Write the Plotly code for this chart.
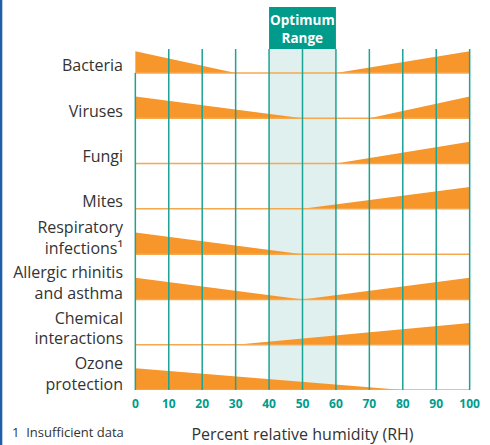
import plotly.graph_objects as go

# ---- data ----
row_labels = ["Bacteria", "Viruses", "Fungi", "Mites",
              "Respiratory<br>infections¹", "Allergic rhinitis<br>and asthma",
              "Chemical<br>interactions", "Ozone<br>protection"]
# breakpoints (RH %) and relative effect level at each breakpoint
bacteria_rh, bacteria_lv = [0, 30, 60, 100], [1, 0, 0, 1]
viruses_rh, viruses_lv = [0, 50, 70, 100], [1, 0, 0, 1]
fungi_rh, fungi_lv = [0, 60, 100], [0, 0, 1]
mites_rh, mites_lv = [0, 50, 100], [0, 0, 1]
resp_rh, resp_lv = [0, 50, 100], [1, 0, 0]
allergic_rh, allergic_lv = [0, 50, 100], [1, 0, 1]
chemical_rh, chemical_lv = [0, 30, 100], [0, 0, 1]
ozone_rh, ozone_lv = [0, 80, 100], [1, 0, 0]
series = [(bacteria_rh, bacteria_lv), (viruses_rh, viruses_lv),
          (fungi_rh, fungi_lv), (mites_rh, mites_lv), (resp_rh, resp_lv),
          (allergic_rh, allergic_lv), (chemical_rh, chemical_lv),
          (ozone_rh, ozone_lv)]
rh_ticks = [0, 10, 20, 30, 40, 50, 60, 70, 80, 90, 100]
optimum_range = [40, 60]

# ---- style ----
ORANGE = "#F7962A"
ORANGE_LINE = "#F6A84F"
TEAL = "#1BA395"
TEAL_BOX = "#009B8B"
BAND = "#E0F0EE"
TXT = "#333333"
FONT = "Open Sans"
H = 0.48          # row triangle height (row units)
TOP = 0.53        # top of grid

fig = go.Figure()

for i, (xs, lv) in enumerate(series):
    base = -i
    px = list(xs) + [xs[-1], xs[0]]
    py = [base + v * H for v in lv] + [base, base]
    fig.add_trace(go.Scatter(x=px, y=py, mode="lines", fill="toself",
                             fillcolor=ORANGE, line=dict(width=0),
                             hoverinfo="skip", showlegend=False))
    fig.add_trace(go.Scatter(x=[rh_ticks[0], rh_ticks[-1]], y=[base, base],
                             mode="lines", line=dict(color=ORANGE_LINE, width=1.5),
                             hoverinfo="skip", showlegend=False))

shapes = []
# optimum band
shapes.append(dict(type="rect", xref="x", yref="y", x0=optimum_range[0],
                   x1=optimum_range[1], y0=-(len(series) - 1), y1=TOP,
                   fillcolor=BAND, line=dict(width=0), layer="below"))
# header box
shapes.append(dict(type="rect", xref="x", yref="y", x0=optimum_range[0],
                   x1=optimum_range[1], y0=TOP, y1=1.457,
                   fillcolor=TEAL_BOX, line=dict(width=0), layer="above"))
# grid lines
for t in rh_ticks:
    shapes.append(dict(type="line", xref="x", yref="y", x0=t, x1=t,
                       y0=-(len(series) - 1), y1=(0 if t == 0 else TOP),
                       line=dict(color=TEAL, width=1.5), layer="above"))
# left blue border
shapes.append(dict(type="line", xref="paper", yref="paper", x0=-0.384, x1=-0.384,
                   y0=-0.2, y1=1.1, line=dict(color="#1F5FA8", width=2.5)))

tickvals = [-i + (0.36 if "<br>" in lab else 0.16) for i, lab in enumerate(row_labels)]

fig.update_layout(
    width=490, height=445,
    margin=dict(l=132, r=17, t=7, b=55),
    paper_bgcolor="white", plot_bgcolor="white",
    font=dict(family=FONT, color=TXT),
    shapes=shapes,
    xaxis=dict(range=[-1, 101], tickvals=rh_ticks,
               ticktext=[str(t) for t in rh_ticks],
               tickfont=dict(family=FONT, size=12, color=TEAL_BOX, weight="bold"),
               showgrid=False, zeroline=False, showline=False, ticks="",
               ticklabelstandoff=5, automargin=False,
               title=dict(text="Percent relative humidity (RH)",
                          font=dict(family=FONT, size=16, color=TXT), standoff=18),
               fixedrange=True),
    yaxis=dict(range=[-7, 1.457], tickvals=tickvals, ticktext=row_labels,
               tickfont=dict(family=FONT, size=16, color=TXT),
               showgrid=False, zeroline=False, showline=False, ticks="",
               ticklabelstandoff=8, automargin=False, fixedrange=True),
    annotations=[
        dict(text="<b>Optimum<br>Range</b>", x=sum(optimum_range) / 2, y=0.97,
             xref="x", yref="y", showarrow=False,
             font=dict(family=FONT, size=13.5, color="white")),
        dict(text="1  Insufficient data", x=-0.358, y=-0.11, xref="paper",
             yref="paper", xanchor="left", yanchor="middle", showarrow=False,
             font=dict(family=FONT, size=13, color=TXT)),
    ],
)

fig.write_html("out.html", config={"displayModeBar": False},
               post_script="document.body.style.margin='0';")
